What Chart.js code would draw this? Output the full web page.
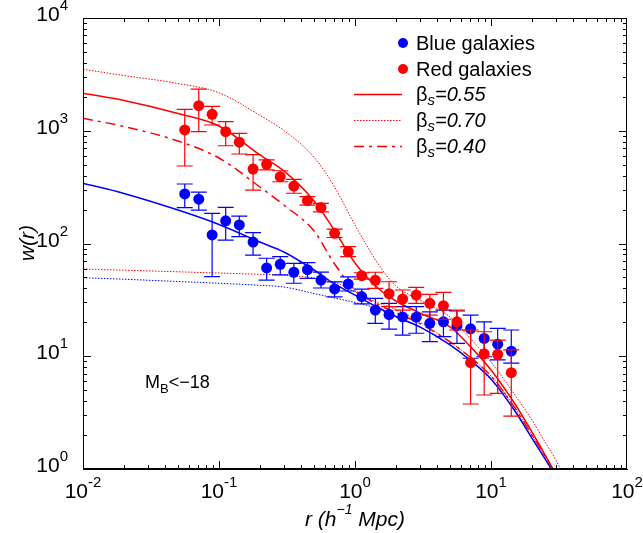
<!DOCTYPE html>
<html>
<head>
<meta charset="utf-8">
<script src="https://cdn.jsdelivr.net/npm/chart.js@4.4.1/dist/chart.umd.min.js"></script>
<style>
  html, body { margin: 0; padding: 0; background: #fff; }
  #chart { display: block; }
</style>
</head>
<body>
<canvas id="chart" width="643" height="533"></canvas>
<script>
// measured points, r in h^-1 Mpc
const rPoints = [0.056, 0.071, 0.089, 0.112, 0.141, 0.178, 0.224, 0.282, 0.355, 0.447,
  0.562, 0.708, 0.891, 1.12, 1.41, 1.78, 2.24, 2.82, 3.55, 4.47, 5.62, 7.08, 8.91, 11.2, 14.1];

const blueW  = [275, 247, 119, 159, 146, 103, 60.7, 65.4, 55.6, 58.6, 47.4, 39.5, 43.7, 33.8,
  25.7, 23.4, 22.3, 22.2, 19.6, 20.2, 18.7, 17.5, 14.4, 12.8, 11.1];
const blueLo = [208, 198, 50.8, 107, 115, 79, 47.4, 52.6, 44.4, 49.1, 40.3, 33.6, 37.9, 29.1,
  19.6, 17.4, 15.4, 16.0, 13.5, 14.9, 13.0, 9.6, 9.9, 9.3, 8.7];
const blueHi = [337, 286, 185, 209, 175, 125, 74, 76.4, 66.7, 67.6, 55.8, 45.6, 50.5, 39.4,
  32.6, 29.5, 27.5, 27.5, 24.8, 25.7, 25.2, 23.2, 20.2, 17.7, 17.1];

const redW  = [1016, 1667, 1399, 982, 791, 458, 504, 391, 323, 240, 209, 123, 84.5, 51.8,
  47.2, 35.9, 32.2, 34.9, 29.5, 28.1, 20.2, 8.77, 10.5, 10.4, 7.15];
const redLo = [487, 982, 1125, 736, 622, 298, 449, 353, 279, 219, 191, 113, 76.4, 48.4,
  40.0, 27.5, 25.7, 29.5, 23.2, 21.3, 17.1, 3.77, 4.53, 4.69, 2.95];
const redHi = [1549, 2344, 1648, 1203, 949, 614, 551, 442, 371, 260, 227, 134, 93.8, 55.0,
  55.6, 45.8, 38.7, 40.9, 35.4, 36.9, 25.7, 17.1, 16.5, 13.9, 11.4];

// model curves
const rModel = [0.01, 0.02, 0.05, 0.1, 0.2, 0.3, 0.5, 0.7, 1, 1.5, 2, 3, 5, 7, 10, 15, 20, 25, 30, 40];
const red055  = [2148, 1855, 1422, 1102, 610, 440, 238, 133, 67.1, 39.5, 30.9, 24.2, 18.2, 12.3, 7.55, 3.77, 2.13, 1.33, 0.885, 0.433];
const red070  = [3508, 3090, 2625, 2171, 1368, 1005, 582, 324, 146, 64.4, 42.0, 31.5, 22.3, 14.5, 8.9, 4.53, 2.72, 1.73, 1.20, 0.59];
const red040  = [1289, 1091, 811, 573, 317, 219, 129, 67.1, 38.7, 28.5, 24.4, 19.5, 13.4, 9.84, 6.68, 3.48, 2.0, 1.30, 0.90, 0.47];
const red2h   = [59.4, 58.0, 56.1, 54.7, 53.3, 52.4, 49.4, 45.6, 37.2, 29.6, 26.0, 20.1, 13.4, 9.84, 6.68, 3.48, 2.0, 1.30, 0.90, 0.47];
const blueFit = [342, 278, 198, 147.5, 103, 84.1, 58.2, 44.0, 34.9, 26.8, 22.5, 18.2, 12.6, 9.27, 6.28, 3.27, 1.88, 1.23, 0.85, 0.44];
const blue2h  = [49.7, 48.2, 46.0, 44.4, 42.6, 41.1, 36.0, 32.9, 30.0, 26.2, 22.3, 18.1, 12.5, 9.2, 6.2, 3.25, 1.87, 1.22, 0.85, 0.44];

// axis labels (10^n)
const xTicks = [0.01, 0.1, 1, 10, 100];
const xExp = ['-2', '-1', '0', '1', '2'];
const yTicks = [1, 10, 100, 1000, 10000];
const yExp = ['0', '1', '2', '3', '4'];

const BLUE = '#0000ff';
const RED = '#ff0000';
const FONT = '"Liberation Sans", Arial, sans-serif';

function pts(xs, ys) {
  return xs.map((x, i) => ({ x: x, y: ys[i] }));
}

function curve(ys, color, dash, width, order) {
  return {
    data: pts(rModel, ys),
    showLine: true,
    borderColor: color,
    borderWidth: width,
    borderDash: dash,
    pointRadius: 0,
    cubicInterpolationMode: 'monotone',
    order: order
  };
}

// error bars, drawn right before their points
const errorBars = {
  id: 'errorBars',
  beforeDatasetDraw(chart, args) {
    const ds = chart.data.datasets[args.index];
    if (!ds.errLo) return;
    const { ctx, scales: { x, y } } = chart;
    ctx.save();
    ctx.strokeStyle = ds.backgroundColor;
    ctx.lineWidth = 1.2;
    ds.data.forEach((p, i) => {
      const px = x.getPixelForValue(p.x);
      const y1 = y.getPixelForValue(ds.errHi[i]);
      const y2 = y.getPixelForValue(ds.errLo[i]);
      ctx.beginPath();
      ctx.moveTo(px, y1); ctx.lineTo(px, y2);
      ctx.moveTo(px - 8, y1); ctx.lineTo(px + 8, y1);
      ctx.moveTo(px - 8, y2); ctx.lineTo(px + 8, y2);
      ctx.stroke();
    });
    ctx.restore();
  }
};

// frame, inward ticks, labels, legend
const decor = {
  id: 'decor',
  afterDraw(chart) {
    const { ctx, chartArea: a, scales: { x, y } } = chart;
    ctx.save();
    ctx.strokeStyle = '#000';
    ctx.lineWidth = 1;
    ctx.strokeRect(Math.round(a.left) + 0.5, Math.round(a.top) + 0.5,
      Math.round(a.right - a.left) - 1, Math.round(a.bottom - a.top) - 1);

    ctx.beginPath();
    for (let e = -2; e < 2; e++) {
      for (let m = 1; m < 10; m++) {
        const px = Math.round(x.getPixelForValue(m * Math.pow(10, e))) + 0.5;
        const len = m === 1 ? 8 : 4;
        ctx.moveTo(px, a.bottom); ctx.lineTo(px, a.bottom - len);
        ctx.moveTo(px, a.top); ctx.lineTo(px, a.top + len);
      }
    }
    for (let e = 0; e < 4; e++) {
      for (let m = 1; m < 10; m++) {
        const py = Math.round(y.getPixelForValue(m * Math.pow(10, e))) + 0.5;
        const len = m === 1 ? 8 : 4;
        ctx.moveTo(a.left, py); ctx.lineTo(a.left + len, py);
        ctx.moveTo(a.right, py); ctx.lineTo(a.right - len, py);
      }
    }
    ctx.stroke();

    ctx.fillStyle = '#000';
    ctx.textBaseline = 'alphabetic';
    // x tick labels
    xTicks.forEach((v, i) => {
      const px = x.getPixelForValue(v);
      ctx.font = '21px ' + FONT;
      const w1 = ctx.measureText('10').width;
      ctx.font = '15px ' + FONT;
      const w2 = ctx.measureText(xExp[i]).width;
      const x0 = px - (w1 + w2) / 2;
      ctx.font = '21px ' + FONT;
      ctx.fillText('10', x0, a.bottom + 29);
      ctx.font = '15px ' + FONT;
      ctx.fillText(xExp[i], x0 + w1, a.bottom + 18);
    });
    // y tick labels
    yTicks.forEach((v, i) => {
      const py = y.getPixelForValue(v);
      ctx.font = '15px ' + FONT;
      const w2 = ctx.measureText(yExp[i]).width;
      ctx.font = '21px ' + FONT;
      const w1 = ctx.measureText('10').width;
      const x0 = a.left - 15 - w1 - w2;
      ctx.fillText('10', x0, py + 3);
      ctx.font = '15px ' + FONT;
      ctx.fillText(yExp[i], x0 + w1, py - 8);
    });

    // axis titles
    ctx.save();
    ctx.translate(34, 243);
    ctx.rotate(-Math.PI / 2);
    ctx.font = 'italic 21px ' + FONT;
    ctx.textAlign = 'center';
    ctx.fillText('w(r)', 0, 0);
    ctx.restore();

    ctx.font = 'italic 21px ' + FONT;
    const t1 = 'r (h', t3 = ' Mpc)';
    const wa = ctx.measureText(t1).width, wc = ctx.measureText(t3).width;
    ctx.font = 'italic 14px ' + FONT;
    const wb = ctx.measureText('\u22121').width;
    let tx = (a.left + a.right) / 2 - (wa + wb + wc) / 2;
    ctx.font = 'italic 21px ' + FONT;
    ctx.fillText(t1, tx, 526);
    ctx.font = 'italic 14px ' + FONT;
    ctx.fillText('\u22121', tx + wa, 514);
    ctx.font = 'italic 21px ' + FONT;
    ctx.fillText(t3, tx + wa + wb, 526);

    // magnitude cut
    ctx.font = '18px ' + FONT;
    ctx.fillText('M', 145, 388);
    const wm = ctx.measureText('M').width;
    ctx.font = '13px ' + FONT;
    ctx.fillText('B', 145 + wm, 393);
    const wB = ctx.measureText('B').width;
    ctx.font = '18px ' + FONT;
    ctx.fillText('<\u221218', 145 + wm + wB, 388);

    // legend
    ctx.textBaseline = 'middle';
    ctx.font = '20px ' + FONT;
    [[BLUE, 'Blue galaxies', 43], [RED, 'Red galaxies', 69]].forEach(([c, label, ly]) => {
      ctx.fillStyle = c;
      ctx.beginPath();
      ctx.arc(403, ly, 5, 0, Math.PI * 2);
      ctx.fill();
      ctx.fillStyle = '#000';
      ctx.fillText(label, 416, ly + 1);
    });
    [['0.55', [], 94], ['0.70', [1.5, 1.5], 120], ['0.40', [10, 5, 3, 5], 146]].forEach(([val, dash, ly]) => {
      ctx.strokeStyle = RED;
      ctx.lineWidth = dash.length === 2 ? 1 : 1.5;
      ctx.setLineDash(dash);
      ctx.beginPath();
      ctx.moveTo(354, ly + 0.5); ctx.lineTo(402, ly + 0.5);
      ctx.stroke();
      ctx.setLineDash([]);
      ctx.fillStyle = '#000';
      ctx.font = '20px ' + FONT;
      ctx.fillText('\u03b2', 416, ly + 1);
      const wb2 = ctx.measureText('\u03b2').width;
      ctx.font = 'italic 15px ' + FONT;
      ctx.fillText('s', 416 + wb2, ly + 7);
      const ws = ctx.measureText('s').width;
      ctx.font = 'italic 20px ' + FONT;
      ctx.fillText('=' + val, 416 + wb2 + ws, ly + 1);
    });
    ctx.restore();
  }
};

new Chart(document.getElementById('chart'), {
  type: 'scatter',
  data: {
    datasets: [
      {
        data: pts(rPoints, redW), errLo: redLo, errHi: redHi,
        backgroundColor: RED, borderWidth: 0, pointRadius: 5.5, order: 0
      },
      {
        data: pts(rPoints, blueW), errLo: blueLo, errHi: blueHi,
        backgroundColor: BLUE, borderWidth: 0, pointRadius: 5.5, order: 1
      },
      curve(red055, RED, [], 1.5, 2),
      curve(red070, RED, [1.5, 1.5], 1, 3),
      curve(red040, RED, [10, 5, 3, 5], 1.5, 4),
      curve(red2h, RED, [1.5, 1.5], 1, 5),
      curve(blueFit, BLUE, [], 1.5, 6),
      curve(blue2h, BLUE, [1.5, 1.5], 1, 7)
    ]
  },
  options: {
    responsive: false,
    animation: false,
    layout: { padding: { left: 83, right: 16, top: 18, bottom: 64 } },
    plugins: { legend: { display: false }, tooltip: { enabled: false } },
    scales: {
      x: {
        type: 'logarithmic', min: 0.01, max: 100,
        grid: { display: false, drawTicks: false },
        ticks: { display: false },
        border: { display: true, color: '#000', width: 1 }
      },
      y: {
        type: 'logarithmic', min: 1, max: 10000,
        grid: { display: false, drawTicks: false },
        ticks: { display: false },
        border: { display: true, color: '#000', width: 1 }
      }
    }
  },
  plugins: [errorBars, decor]
});
</script>
</body>
</html>
